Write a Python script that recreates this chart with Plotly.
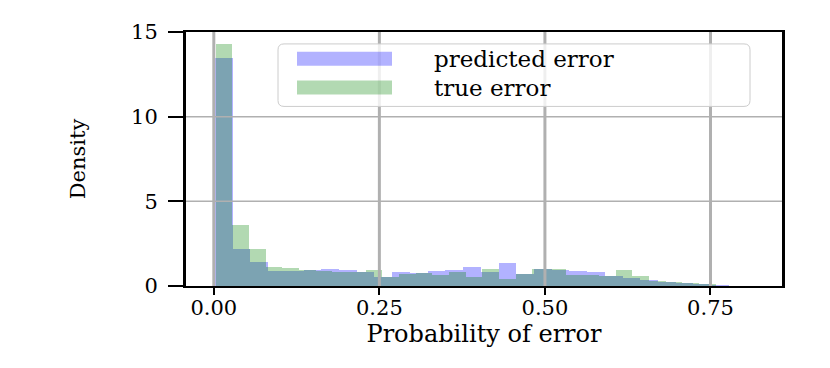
import numpy as np
import plotly.graph_objects as go

# ==== histogram data (density per bin) ====
series_names = ["predicted error", "true error"]

pred_bin_start = 0.0018
pred_bin_width = 0.02676
pred_density = [13.47, 2.2, 1.4, 0.9, 0.9, 0.93, 0.98, 0.94, 0.82, 0.55,
                0.8, 0.74, 0.87, 0.93, 1.13, 0.85, 1.33, 0.7, 0.98, 0.95,
                0.9, 0.8, 0.6, 0.45, 0.33, 0.26, 0.2, 0.14, 0.06, 0.01]

true_bin_start = 0.0026
true_bin_width = 0.02517
true_density = [14.27, 3.6, 2.17, 1.1, 1.05, 0.92, 0.87, 0.82, 0.8, 0.96,
                0.55, 0.72, 0.76, 0.67, 0.8, 0.52, 1.03, 0.4, 0.72, 1.0,
                0.98, 0.65, 0.64, 0.6, 0.94, 0.6, 0.3, 0.25, 0.17, 0.1]

x_ticks = [0.0, 0.25, 0.5, 0.75]
x_tick_labels = ["0.00", "0.25", "0.50", "0.75"]
y_ticks = [0, 5, 10, 15]
y_tick_labels = ["0", "5", "10", "15"]

FONT = "DejaVu Serif"
W, H = 830, 368
# page body has an 8px margin, so the figure is drawn 8px right/down
OFF = 8
L, R, T, B = 186 - OFF, 48 + OFF, 30 - OFF, 82 + OFF
colors = ["rgba(0,0,255,0.3)", "rgba(0,128,0,0.3)"]


def centers(start, width, n):
    return start + width * (np.arange(n) + 0.5)


def px(x):   # screen pixel -> paper x
    return (x - OFF - L) / (W - L - R)


def py(y):   # screen pixel -> paper y
    return (H - B - (y - OFF)) / (H - T - B)


fig = go.Figure()
fig.add_trace(go.Bar(x=centers(pred_bin_start, pred_bin_width, len(pred_density)),
                     y=pred_density, width=pred_bin_width, name=series_names[0],
                     marker=dict(color=colors[0], line=dict(width=0))))
fig.add_trace(go.Bar(x=centers(true_bin_start, true_bin_width, len(true_density)),
                     y=true_density, width=true_bin_width, name=series_names[1],
                     marker=dict(color=colors[1], line=dict(width=0))))

# grid on top of the bars (like matplotlib here)
shapes = []
for xv in x_ticks:
    shapes.append(dict(type="line", xref="x", yref="paper", x0=xv, x1=xv, y0=0, y1=1,
                       line=dict(color="#b0b0b0", width=3), layer="above"))
for yv in y_ticks[1:-1]:
    shapes.append(dict(type="line", xref="paper", yref="y", x0=0, x1=1, y0=yv, y1=yv,
                       line=dict(color="#b0b0b0", width=1.5), layer="above"))

# legend box with rounded corners
x0, x1, y0, y1 = px(278), px(750), py(105), py(42)
rx, ry = 6 / (W - L - R), 6 / (H - T - B)
path = (f"M{x0+rx},{y0} L{x1-rx},{y0} Q{x1},{y0} {x1},{y0+ry} L{x1},{y1-ry} "
        f"Q{x1},{y1} {x1-rx},{y1} L{x0+rx},{y1} Q{x0},{y1} {x0},{y1-ry} "
        f"L{x0},{y0+ry} Q{x0},{y0} {x0+rx},{y0} Z")
shapes.append(dict(type="path", xref="paper", yref="paper", path=path,
                   fillcolor="rgba(255,255,255,0.8)", line=dict(color="#cccccc", width=1),
                   layer="above"))
annotations = []
for i, (name, col) in enumerate(zip(series_names, colors)):
    yc = 57 + 29 * i
    shapes.append(dict(type="rect", xref="paper", yref="paper",
                       x0=px(297), x1=px(392), y0=py(yc + 7), y1=py(yc - 7),
                       fillcolor=col, line=dict(width=0), layer="above"))
    annotations.append(dict(xref="paper", yref="paper", x=px(432), y=py(yc), text=name,
                            showarrow=False, xanchor="left", yanchor="middle",
                            font=dict(family=FONT, size=23, color="black")))

fig.update_layout(
    width=W, height=H,
    margin=dict(l=L, r=R, t=T, b=B),
    paper_bgcolor="white", plot_bgcolor="white",
    barmode="overlay", bargap=0, showlegend=False,
    shapes=shapes, annotations=annotations,
    font=dict(family=FONT, color="black"),
)
fig.update_xaxes(range=[-0.042, 0.858], tickvals=x_ticks, ticktext=x_tick_labels,
                 showgrid=False, zeroline=False, showline=True, mirror=True,
                 linecolor="black", linewidth=2, ticks="outside", ticklen=7, tickwidth=2,
                 tickcolor="black", tickfont=dict(family=FONT, size=21),
                 ticklabelstandoff=-5,
                 title=dict(text="Probability of error", font=dict(family=FONT, size=24),
                            standoff=0))
fig.update_yaxes(range=[0, 15], tickvals=y_ticks, ticktext=y_tick_labels,
                 showgrid=False, zeroline=False, showline=True, mirror=True,
                 linecolor="black", linewidth=3, ticks="outside", ticklen=15, tickwidth=2,
                 tickcolor="black", tickfont=dict(family=FONT, size=21),
                 ticklabelstandoff=6,
                 title=dict(text="Density", font=dict(family=FONT, size=21), standoff=40))

fig.write_html("out.html")
